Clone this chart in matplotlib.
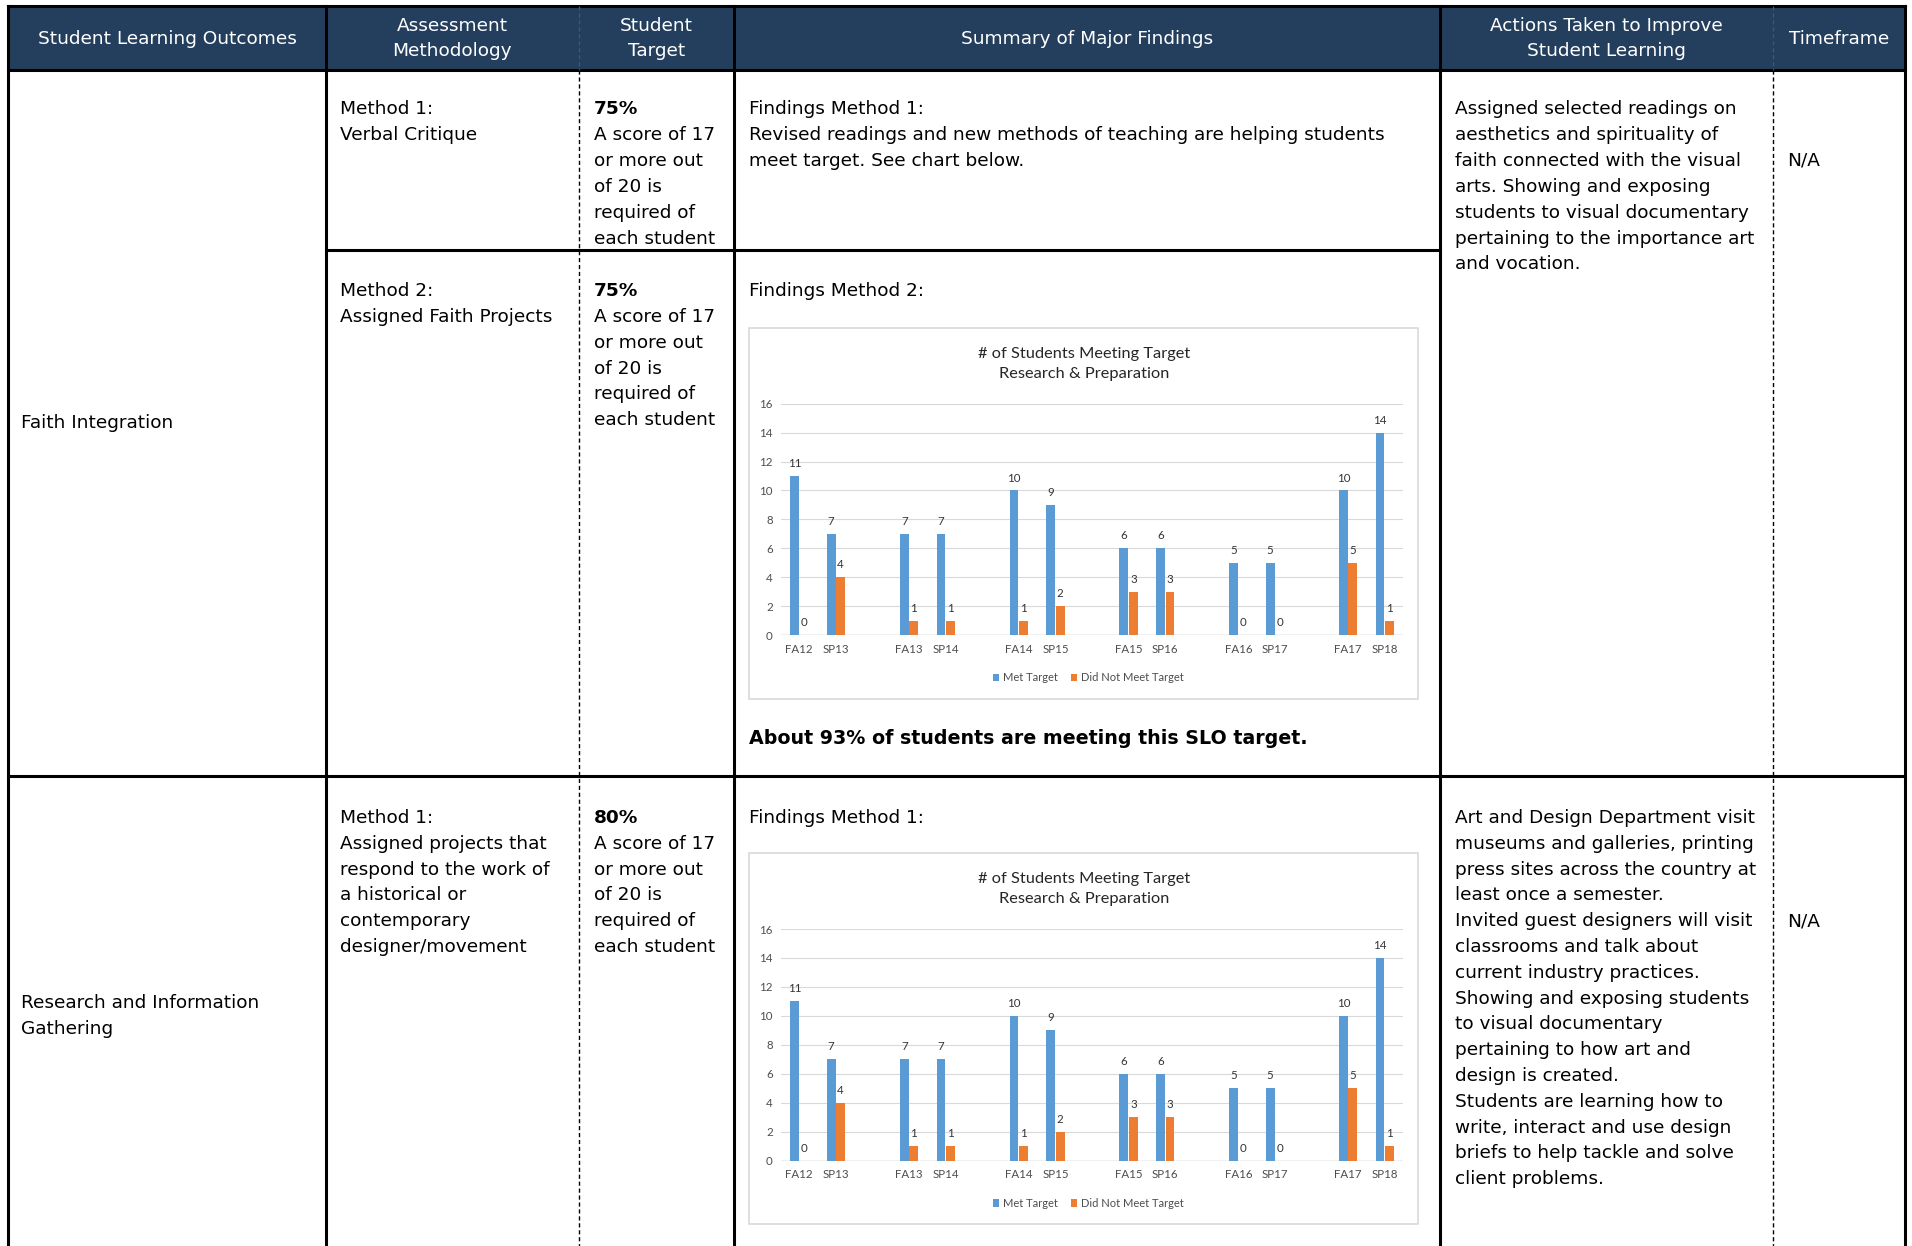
import numpy as np
import matplotlib
matplotlib.use('Agg')
from matplotlib import pyplot as plt
from matplotlib.patches import Rectangle

# semester counts shown in both findings charts
terms = ['FA12', 'SP13', 'FA13', 'SP14', 'FA14', 'SP15',
         'FA15', 'SP16', 'FA16', 'SP17', 'FA17', 'SP18']
met_target = [11, 7, 7, 7, 10, 9, 6, 6, 5, 5, 10, 14]
not_met_target = [0, 4, 1, 1, 1, 2, 3, 3, 0, 0, 5, 1]

headers = ['Student Learning Outcomes', 'Assessment\nMethodology', 'Student\nTarget',
           'Summary of Major Findings', 'Actions Taken to Improve\nStudent Learning', 'Timeframe']

W, H = 1912, 1246
NAVY = '#243f5e'
BLUE = '#5b9bd5'
ORANGE = '#ed7d31'
FS = 13.3
STEP = 25.8
BODY = 'DejaVu Sans'
CHART_FONT = 'Lato'

fig = plt.figure(figsize=(W / 100, H / 100), dpi=100)
bg = fig.add_axes([0, 0, 1, 1])
bg.set_xlim(0, W)
bg.set_ylim(H, 0)
bg.axis('off')

# column borders (pixels)
x0, x1, x2, x3, x4, x5, x6 = 8.5, 325.6, 579, 734, 1440, 1773, 1905
y_top, y_head, y_split, y_row = 6, 69.5, 250, 775.6

bg.add_patch(Rectangle((x0, y_top), x6 - x0, y_head - y_top, facecolor=NAVY, edgecolor='none'))

lw = 2.2
bg.plot([x0, x6], [y_top, y_top], color='black', lw=lw)
bg.plot([x0, x6], [y_head, y_head], color='black', lw=lw)
bg.plot([x0, x6], [y_row, y_row], color='black', lw=lw)
bg.plot([x1, x4], [y_split, y_split], color='black', lw=lw)
for xv in (x0, x1, x3, x4, x6):
    bg.plot([xv, xv], [y_top, H], color='black', lw=lw)
for xv in (x2, x5):
    bg.plot([xv, xv], [y_top, y_head], color='#3d5777', lw=1.0, ls=(0, (3, 2)))
    bg.plot([xv, xv], [y_head, H], color='black', lw=1.0, ls=(0, (3, 2)))

# header labels
for (xa, xb), label in zip([(x0, x1), (x1, x2), (x2, x3), (x3, x4), (x4, x5), (x5, x6)], headers):
    lines = label.split('\n')
    yc = 38.5 - (len(lines) - 1) * STEP / 2
    for i, s in enumerate(lines):
        bg.text((xa + xb) / 2, yc + i * STEP, s, ha='center', va='center',
                color='white', fontsize=FS, family=BODY)


def put_lines(x, y, lines, bold_first=False, bold=False, size=FS):
    for i, s in enumerate(lines):
        weight = 'bold' if bold or (bold_first and i == 0) else 'normal'
        bg.text(x, y + i * STEP, s, ha='left', va='center', fontsize=size,
                family=BODY, weight=weight, color='black')


target_text = ['A score of 17', 'or more out', 'of 20 is', 'required of', 'each student']
tx0, tx1, tx2, tx3, tx4, tx5 = 20.7, 340, 594, 748.7, 1454.7, 1787.6

# row: Faith Integration
put_lines(tx0, 423.5, ['Faith Integration'])
put_lines(tx1, 109.5, ['Method 1:', 'Verbal Critique'])
put_lines(tx2, 109.5, ['75%'] + target_text, bold_first=True)
put_lines(tx3, 109.5, ['Findings Method 1:',
                       'Revised readings and new methods of teaching are helping students',
                       'meet target. See chart below.'])
put_lines(tx4, 109.5, ['Assigned selected readings on', 'aesthetics and spirituality of',
                       'faith connected with the visual', 'arts. Showing and exposing',
                       'students to visual documentary', 'pertaining to the importance art',
                       'and vocation.'])
put_lines(tx5, 160.7, ['N/A'])
put_lines(tx1, 291.2, ['Method 2:', 'Assigned Faith Projects'])
put_lines(tx2, 291.2, ['75%'] + target_text, bold_first=True)
put_lines(tx3, 291.2, ['Findings Method 2:'])
put_lines(tx3, 738.7, ['About 93% of students are meeting this SLO target.'], bold=True, size=13.7)

# row: Research and Information Gathering
put_lines(tx0, 1003.3, ['Research and Information', 'Gathering'])
put_lines(tx1, 818, ['Method 1:', 'Assigned projects that', 'respond to the work of',
                     'a historical or', 'contemporary', 'designer/movement'])
put_lines(tx2, 818, ['80%'] + target_text, bold_first=True)
put_lines(tx3, 818, ['Findings Method 1:'])
put_lines(tx4, 818, ['Art and Design Department visit', 'museums and galleries, printing',
                     'press sites across the country at', 'least once a semester.',
                     'Invited guest designers will visit', 'classrooms and talk about',
                     'current industry practices.', 'Showing and exposing students',
                     'to visual documentary', 'pertaining to how art and',
                     'design is created.', 'Students are learning how to',
                     'write, interact and use design', 'briefs to help tackle and solve',
                     'client problems.'])
put_lines(tx5, 921.6, ['N/A'])


def draw_chart(dy):
    # frame of the embedded chart
    bg.add_patch(Rectangle((749, 328 + dy), 669, 371, facecolor='white',
                           edgecolor='#d9d9d9', lw=1.2))
    bg.text(1084, 354 + dy, '# of Students Meeting Target', ha='center', va='center',
            fontsize=11.8, family=CHART_FONT, color='#262626')
    bg.text(1084, 374 + dy, 'Research & Preparation', ha='center', va='center',
            fontsize=11.8, family=CHART_FONT, color='#262626')

    left, right, top, bottom = 781, 1403, 403.6 + dy, 635.3 + dy
    ax = fig.add_axes([left / W, 1 - bottom / H, (right - left) / W, (bottom - top) / H])
    pos = np.array([i + i // 2 for i in range(len(terms))], dtype=float)
    width = 0.24
    b1 = ax.bar(pos - 0.13, met_target, width, color=BLUE, label='Met Target', zorder=3)
    b2 = ax.bar(pos + 0.13, not_met_target, width, color=ORANGE, label='Did Not Meet Target', zorder=3)
    for bars in (b1, b2):
        for t in ax.bar_label(bars, padding=5, fontsize=8.3, color='#333333'):
            t.set_family(CHART_FONT)
    ax.set_xlim(-0.5, pos[-1] + 0.5)
    ax.set_ylim(0, 16)
    ax.set_yticks(range(0, 17, 2))
    ax.set_xticks(pos)
    ax.set_xticklabels(terms)
    ax.tick_params(length=0, labelsize=8.3, colors='#4d4d4d', pad=6)
    for lab in ax.get_xticklabels() + ax.get_yticklabels():
        lab.set_family(CHART_FONT)
    ax.grid(axis='y', color='#d9d9d9', lw=0.8, zorder=0)
    for sp in ax.spines.values():
        sp.set_visible(False)
    ax.axhline(0, color='#bfbfbf', lw=1.0, zorder=2)
    ax.patch.set_alpha(0)
    leg = ax.legend(loc='center', bbox_to_anchor=(1088 / W, 1 - (678 + dy) / H),
                    bbox_transform=fig.transFigure, ncol=2, frameon=False,
                    handlelength=0.6, handleheight=0.6, handletextpad=0.3,
                    columnspacing=1.2, prop={'family': CHART_FONT, 'size': 8})
    for t in leg.get_texts():
        t.set_color('#4d4d4d')


draw_chart(0)
draw_chart(525.4)

fig.savefig('out.png', dpi=100, facecolor='white')
